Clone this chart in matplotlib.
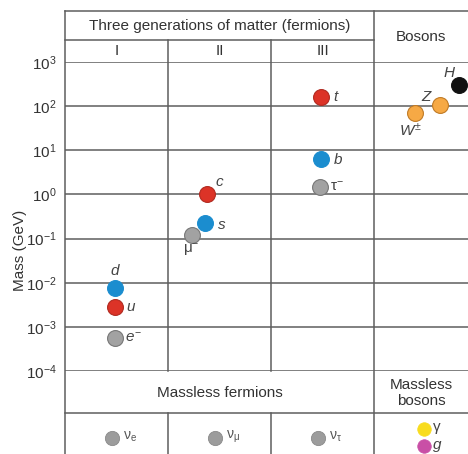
import matplotlib
matplotlib.use("Agg")
import matplotlib.pyplot as plt

plt.rcParams['font.family'] = ['Liberation Sans', 'DejaVu Sans']
plt.rcParams['mathtext.fontset'] = 'custom'
plt.rcParams['mathtext.rm'] = 'Liberation Sans'
plt.rcParams['mathtext.it'] = 'Liberation Sans:italic'

# massive particles: label, column position (0-1 = gen I, 1-2 = II, 2-3 = III, 3+ = bosons), mass in GeV
labels = [r'$u$', r'$d$', r'$e^{-}$', r'$c$', r'$s$', r'$\mathrm{\mu}^{-}$',
          r'$t$', r'$b$', r'$\mathrm{\tau}^{-}$', r'$W^{\pm}$', r'$Z$', r'$H$']
cols = [0.49, 0.49, 0.49, 1.38, 1.36, 1.23, 2.49, 2.49, 2.48, 3.40, 3.64, 3.83]
masses = [0.0028, 0.0077, 0.00056, 1.0, 0.22, 0.12, 160, 6.2, 1.5, 69, 105, 300]
kinds = ['up', 'down', 'lepton', 'up', 'down', 'lepton', 'up', 'down', 'lepton',
         'gauge', 'gauge', 'higgs']

# massless particles
nu_labels = [r'$\mathrm{\nu_e}$', r'$\mathrm{\nu_\mu}$', r'$\mathrm{\nu_\tau}$']
gauge0_labels = [r'$\mathrm{\gamma}$', r'$g$']

gen_names = ['I', 'II', 'III']
decades = [1e-4, 1e-3, 1e-2, 1e-1, 1e0, 1e1, 1e2, 1e3]
tick_text = [r'$\mathregular{10^{-4}}$', r'$\mathregular{10^{-3}}$', r'$\mathregular{10^{-2}}$',
             r'$\mathregular{10^{-1}}$', r'$\mathregular{10^{0}}$', r'$\mathregular{10^{1}}$',
             r'$\mathregular{10^{2}}$', r'$\mathregular{10^{3}}$']

face = {'up': '#dc3327', 'down': '#1b8dcf', 'lepton': '#a2a2a2',
        'gauge': '#f6a945', 'higgs': '#111111'}
edge = {'up': '#b02a20', 'down': '#1b8dcf', 'lepton': '#777777',
        'gauge': '#c07a25', 'higgs': '#111111'}
# label offsets in pixels (dx, dy) and alignment
offs = [(11, 0, 'left'), (0, 17, 'center'), (10, 0, 'left'), (8, 12, 'left'),
        (12, -2, 'left'), (0, -15, 'center'), (12, 0, 'left'), (12, 0, 'left'),
        (10, 0, 'left'), (-5, -17, 'center'), (-13, 8, 'center'), (-10, 12, 'center')]

W, H = 468, 454
fig = plt.figure(figsize=(W / 100, H / 100), dpi=100)

# background table drawn in pixel coordinates
bg = fig.add_axes([0, 0, 1, 1])
bg.set_xlim(0, W)
bg.set_ylim(H, 0)
bg.axis('off')

lc = '#5e5e5e'
lw = 1.1
x0, x1, x2, x3, xr = 65, 168, 271, 374, 470
bg.plot([x0, xr], [11, 11], color=lc, lw=lw)
bg.plot([x0, x3], [40, 40], color=lc, lw=lw)
bg.plot([x0, x0], [11, 460], color=lc, lw=lw)
bg.plot([x3, x3], [11, 460], color=lc, lw=lw)
for xv in (x1, x2):
    bg.plot([xv, xv], [40, 371], color=lc, lw=lw)
    bg.plot([xv, xv], [413, 460], color=lc, lw=lw)
bg.plot([x0, xr], [413, 413], color=lc, lw=lw)

fs = 11
bg.text((x0 + x3) / 2, 26, 'Three generations of matter (fermions)', ha='center', va='center', fontsize=fs, color='#333333')
for i, g in enumerate(gen_names):
    bg.text(x0 + 103 * (i + 0.5), 51, g, ha='center', va='center', fontsize=fs, color='#333333')
bg.text((x3 + 468) / 2, 37, 'Bosons', ha='center', va='center', fontsize=fs, color='#333333')
bg.text((x0 + x3) / 2, 393, 'Massless fermions', ha='center', va='center', fontsize=fs, color='#333333')
bg.text((x3 + 468) / 2, 393, 'Massless\nbosons', ha='center', va='center', fontsize=fs,
        color='#333333', linespacing=1.1)
bg.text(20, 250, 'Mass (GeV)', rotation=90, ha='center', va='center', fontsize=fs, color='#333333')

# neutrinos and massless bosons
for i, lab in enumerate(nu_labels):
    cx = x0 + 103 * i + 47
    bg.scatter([cx], [438], s=105, color='#9c9c9c', edgecolors='#8a8a8a', linewidths=0.6, zorder=3)
    bg.text(cx + 11, 437, lab, ha='left', va='center', fontsize=10, color='#555555')
gcolors = ['#f8dc1e', '#c94fa6']
for i, lab in enumerate(gauge0_labels):
    gy = 429 + 17 * i
    bg.scatter([424], [gy], s=95, color=gcolors[i], edgecolors=gcolors[i], linewidths=0.5, zorder=3)
    bg.text(432, gy, lab, ha='left', va='center', fontsize=fs, color='#444444')

# mass axes
ax = fig.add_axes([x0 / W, (H - 371) / H, (W - x0) / W, (371 - 62) / H])
ax.set_yscale('log')
ax.set_ylim(1e-4, 1e3)
ax.set_xlim(0, (W - x0) / 103)
ax.patch.set_alpha(0)
for sp in ax.spines.values():
    sp.set_visible(False)
ax.set_xticks([])
ax.set_yticks(decades)
ax.set_yticklabels(tick_text, fontsize=fs, color='#333333')
ax.yaxis.set_minor_locator(matplotlib.ticker.NullLocator())
ax.tick_params(axis='y', length=0, pad=6)
for d in decades:
    ax.axhline(d, color=lc, lw=lw, zorder=1)

for lab, c, m, k, (dx, dy, ha) in zip(labels, cols, masses, kinds, offs):
    ax.scatter([c], [m], s=130, color=face[k], edgecolors=edge[k], linewidths=0.8, zorder=3)
    ax.annotate(lab, (c, m), xytext=(dx * 0.72, dy * 0.72), textcoords='offset points',
                ha=ha, va='center', fontsize=fs, color='#444444')

fig.savefig('out.png', dpi=100)
